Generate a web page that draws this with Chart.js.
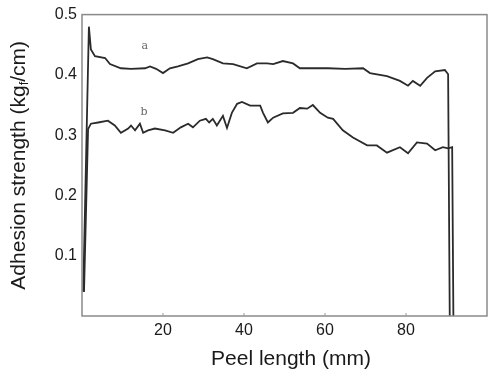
<!DOCTYPE html>
<html>
<head>
<meta charset="utf-8">
<script src="https://cdn.jsdelivr.net/npm/chart.js@4"></script>
<style>
  html, body { margin: 0; padding: 0; background: #fff; }
  #wrap { width: 491px; height: 372px; }
</style>
</head>
<body>
<div id="wrap"><canvas id="peel" width="491" height="372"></canvas></div>
<script>
// curve a
const peelA = [0.3, 1.7, 2.2, 3.2, 5.7, 6.9, 9.6, 12.1, 15.6, 16.8, 18.3, 20.0, 21.7, 23.7, 26.2, 28.6, 30.9, 32.3, 34.8, 37.3, 40.7, 43.2, 45.7, 47.2, 49.6, 52.1, 53.8, 56.3, 60.7, 65.0, 69.4, 71.1, 75.3, 78.5, 80.5, 81.7, 83.5, 85.2, 87.2, 89.6, 90.4, 90.8];
const adhesionA = [0.04, 0.480, 0.442, 0.431, 0.428, 0.418, 0.411, 0.410, 0.411, 0.414, 0.410, 0.403, 0.411, 0.414, 0.419, 0.426, 0.429, 0.426, 0.419, 0.418, 0.411, 0.419, 0.419, 0.418, 0.423, 0.419, 0.411, 0.411, 0.411, 0.410, 0.411, 0.403, 0.398, 0.390, 0.382, 0.390, 0.382, 0.395, 0.406, 0.408, 0.401, 0.0];

// curve b
const peelB = [0.5, 1.5, 2.2, 4.0, 6.4, 8.1, 9.6, 11.4, 12.1, 13.1, 14.3, 15.1, 16.3, 18.0, 20.5, 22.5, 24.4, 26.2, 27.4, 29.1, 30.6, 31.4, 32.3, 33.3, 34.8, 35.8, 37.0, 38.3, 39.5, 41.5, 44.0, 44.7, 45.9, 47.2, 49.6, 52.1, 53.8, 55.6, 57.0, 58.8, 60.7, 62.0, 64.4, 66.9, 70.4, 72.8, 75.3, 78.5, 80.5, 82.7, 85.2, 87.2, 89.1, 90.4, 91.4, 91.7];
const adhesionB = [0.04, 0.310, 0.319, 0.321, 0.324, 0.316, 0.304, 0.311, 0.316, 0.308, 0.319, 0.304, 0.308, 0.311, 0.308, 0.304, 0.313, 0.319, 0.313, 0.324, 0.327, 0.321, 0.327, 0.316, 0.332, 0.312, 0.337, 0.352, 0.355, 0.349, 0.349, 0.337, 0.321, 0.329, 0.336, 0.337, 0.345, 0.344, 0.350, 0.337, 0.329, 0.327, 0.308, 0.296, 0.283, 0.283, 0.271, 0.280, 0.270, 0.288, 0.286, 0.275, 0.280, 0.278, 0.280, 0.0];

const xTicks = [20, 40, 60, 80];
const yTicks = [0.1, 0.2, 0.3, 0.4, 0.5];
const curveLabels = ['a', 'b'];
const labelPos = [[15.5, 0.447], [15.3, 0.339]];

const toPoints = (xs, ys) => xs.map((x, i) => ({ x: x, y: ys[i] }));

const lineColor = '#2b2b2b';
const font = 'Liberation Sans, Arial, Helvetica, sans-serif';

// box, titles, curve labels
const decor = {
  id: 'decor',
  afterDraw(chart) {
    const { ctx, chartArea } = chart;
    const xs = chart.scales.x, ys = chart.scales.y;
    ctx.save();
    ctx.strokeStyle = '#8a8a8a';
    ctx.lineWidth = 1.5;
    ctx.strokeRect(chartArea.left, chartArea.top, chartArea.right - chartArea.left, chartArea.bottom - chartArea.top);

    // small tick marks on x axis
    ctx.strokeStyle = '#999';
    ctx.lineWidth = 1;
    xTicks.forEach(v => {
      const px = xs.getPixelForValue(v);
      ctx.beginPath();
      ctx.moveTo(px, chartArea.bottom);
      ctx.lineTo(px, chartArea.bottom - 3);
      ctx.stroke();
    });

    ctx.fillStyle = '#1a1a1a';
    ctx.font = '21px ' + font;
    ctx.textBaseline = 'alphabetic';
    ctx.textAlign = 'center';
    ctx.fillText('Peel length (mm)', 291, 365);

    // y title with subscript f
    ctx.translate(25, (chartArea.top + chartArea.bottom) / 2);
    ctx.rotate(-Math.PI / 2);
    const p1 = 'Adhesion strength (kg', p2 = 'f', p3 = '/cm)';
    ctx.font = '21px ' + font;
    const w1 = ctx.measureText(p1).width, w3 = ctx.measureText(p3).width;
    ctx.font = '13px ' + font;
    const w2 = ctx.measureText(p2).width;
    let x0 = -(w1 + w2 + w3) / 2;
    ctx.textAlign = 'left';
    ctx.font = '21px ' + font;
    ctx.fillText(p1, x0, 0);
    ctx.font = '13px ' + font;
    ctx.fillText(p2, x0 + w1, 3);
    ctx.font = '21px ' + font;
    ctx.fillText(p3, x0 + w1 + w2, 0);
    ctx.restore();

    ctx.save();
    ctx.fillStyle = '#666';
    ctx.font = '11px "DejaVu Serif", serif';
    ctx.textAlign = 'center';
    ctx.textBaseline = 'middle';
    curveLabels.forEach((t, i) => {
      ctx.fillText(t, xs.getPixelForValue(labelPos[i][0]), ys.getPixelForValue(labelPos[i][1]));
    });
    ctx.restore();
  }
};

new Chart(document.getElementById('peel'), {
  type: 'line',
  data: {
    datasets: [
      { label: 'a', data: toPoints(peelA, adhesionA), borderColor: lineColor, borderWidth: 1.8, pointRadius: 0, tension: 0, fill: false },
      { label: 'b', data: toPoints(peelB, adhesionB), borderColor: lineColor, borderWidth: 1.8, pointRadius: 0, tension: 0, fill: false }
    ]
  },
  options: {
    responsive: false,
    animation: false,
    layout: { padding: { top: 12, right: 4, left: 0, bottom: 0 } },
    plugins: { legend: { display: false }, tooltip: { enabled: false } },
    scales: {
      x: {
        type: 'linear',
        min: 0,
        max: 100,
        afterFit(s) { s.height = 56; },
        afterBuildTicks(s) { s.ticks = xTicks.map(v => ({ value: v })); },
        grid: { display: false, drawTicks: false },
        border: { display: false },
        ticks: { color: '#1a1a1a', padding: 5, font: { size: 16, family: font } }
      },
      y: {
        min: 0,
        max: 0.5,
        afterFit(s) { s.width = 82; },
        afterBuildTicks(s) { s.ticks = yTicks.map(v => ({ value: v })); },
        grid: { display: false, drawTicks: false },
        border: { display: false },
        ticks: { color: '#1a1a1a', padding: 5, font: { size: 16, family: font }, callback: v => v.toFixed(1) }
      }
    }
  },
  plugins: [decor]
});
</script>
</body>
</html>
